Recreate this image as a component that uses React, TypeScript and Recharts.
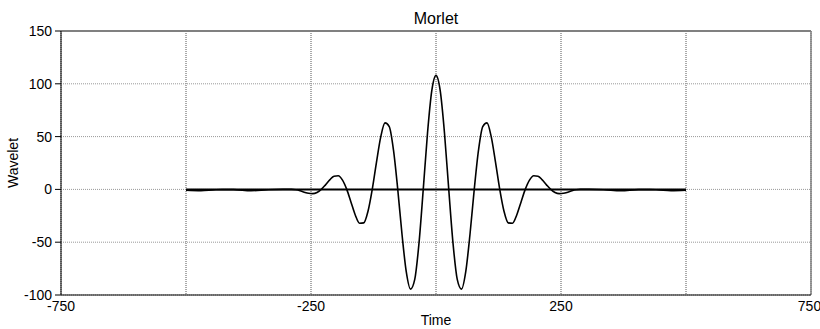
import { LineChart, Line, XAxis, YAxis, CartesianGrid, ReferenceLine } from "recharts";

// time samples (symmetric around 0)
const times = [
  -500, -470, -440, -405, -370, -335,
  -306, -297.5, -289, -280.5, -272, -263.5, -255, -246.5, -238, -229.5, -221, -212.5,
  -204, -195.5, -187, -178.5, -170, -161.5, -153, -144.5, -136, -127.5, -119, -110.5,
  -102, -93.5, -85, -76.5, -68, -59.5, -51, -42.5, -34, -25.5, -17, -8.5,
  0,
  8.5, 17, 25.5, 34, 42.5, 51, 59.5, 68, 76.5, 85, 93.5, 102,
  110.5, 119, 127.5, 136, 144.5, 153, 161.5, 170, 178.5, 187, 195.5, 204,
  212.5, 221, 229.5, 238, 246.5, 255, 263.5, 272, 280.5, 289, 297.5, 306,
  335, 370, 405, 440, 470, 500,
];

const wavelet = [
  -0.8, -1.2, -0.3, -0.2, -1.2, -0.3,
  0, 0, 0, -0.3, -1.2, -2.6, -3.7, -4.0, -2.9, 0, 4.3, 9.0,
  12.5, 12.9, 8.8, 0, -12.1, -24.2, -32.1, -31.7, -20.7, 0, 25.9, 49.7,
  63.0, 59.5, 37.1, 0, -42.5, -77.9, -94.4, -85.2, -50.9, 0, 53.2, 93.2,
  108,
  93.2, 53.2, 0, -50.9, -85.2, -94.4, -77.9, -42.5, 0, 37.1, 59.5, 63.0,
  49.7, 25.9, 0, -20.7, -31.7, -32.1, -24.2, -12.1, 0, 8.8, 12.9, 12.5,
  9.0, 4.3, 0, -2.9, -4.0, -3.7, -2.6, -1.2, -0.3, 0, 0, 0,
  -0.3, -1.2, -0.2, -0.3, -1.2, -0.8,
];

const baselineTimes = [-500, 500];
const baselineValues = [0, 0];

const xTicks = [-750, -500, -250, 0, 250, 500, 750];
const xLabelled = [-750, -250, 250, 750];
const yTicks = [-100, -50, 0, 50, 100, 150];

const waveData = times.map((t, i) => ({ t, v: wavelet[i] }));
const baseData = baselineTimes.map((t, i) => ({ t, v: baselineValues[i] }));

const font = "'Liberation Sans', Arial, sans-serif";

export default function App() {
  return (
    <div style={{ position: "absolute", left: 0, top: 0, width: 820, height: 329, background: "#fff" }}>
      <div
        style={{
          position: "absolute",
          top: 10,
          left: 0,
          width: 872,
          textAlign: "center",
          fontFamily: font,
          fontSize: 16,
          lineHeight: "18px",
          color: "#000",
        }}
      >
        Morlet
      </div>
      <LineChart width={820} height={329} margin={{ top: 31, right: 9, left: 0, bottom: 0 }}>
        <CartesianGrid horizontal={false} stroke="#555" strokeDasharray="1 1" />
        <CartesianGrid vertical={false} stroke="#999" strokeDasharray="1 1" />
        <XAxis
          type="number"
          dataKey="t"
          domain={[-750, 750]}
          ticks={xTicks}
          tickFormatter={(v: number) => (xLabelled.includes(v) ? String(v) : "")}
          allowDataOverflow
          height={34}
          stroke="#000"
          tickSize={0}
          tickMargin={6}
          tick={{ fill: "#000", fontSize: 14, fontFamily: font }}
          label={{ value: "Time", position: "center", dy: 8, fill: "#000", fontSize: 14, fontFamily: font }}
        />
        <YAxis
          type="number"
          domain={[-100, 150]}
          ticks={yTicks}
          allowDataOverflow
          width={61}
          stroke="#000"
          tickSize={6}
          tickMargin={3}
          tick={{ fill: "#000", fontSize: 14, fontFamily: font }}
          label={{ value: "Wavelet", angle: -90, position: "center", dx: -17, fill: "#000", fontSize: 14, fontFamily: font }}
        />
        <ReferenceLine y={150} stroke="#808080" strokeWidth={2} />
        <ReferenceLine x={750} stroke="#808080" strokeWidth={1.5} />
        <Line
          data={baseData}
          dataKey="v"
          type="linear"
          stroke="#000"
          strokeWidth={2}
          dot={false}
          activeDot={false}
          isAnimationActive={false}
        />
        <Line
          data={waveData}
          dataKey="v"
          type="monotone"
          stroke="#000"
          strokeWidth={1.6}
          dot={false}
          activeDot={false}
          isAnimationActive={false}
        />
      </LineChart>
    </div>
  );
}
